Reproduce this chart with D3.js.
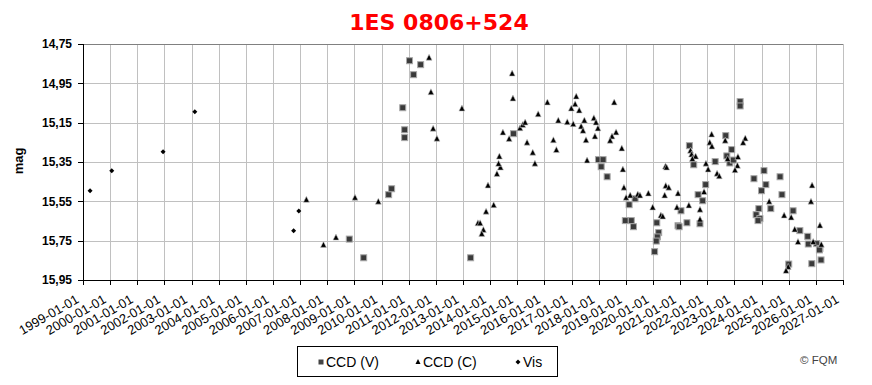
<!DOCTYPE html>
<html>
<head>
<meta charset="utf-8">
<script src="https://cdn.jsdelivr.net/npm/d3@7"></script>
<style>
  body { margin: 0; background: #fff; }
  svg { display: block; font-family: "Liberation Sans", Arial, sans-serif; }
  .grid line { stroke: #c0c0c0; shape-rendering: crispEdges; }
  .axis path, .axis line { stroke: #000; shape-rendering: crispEdges; }
  .axis text { fill: #000; }
</style>
</head>
<body>
<div id="root"></div>
<script>
const W = 872, H = 385,
    margin = {top: 44, right: 29, bottom: 105, left: 83},
    width = W - margin.left - margin.right,
    height = H - margin.top - margin.bottom;

// decimal year, magnitude
const ccdV = [
  [2008.81,15.742],[2009.34,15.837],[2010.26,15.516],[2010.37,15.486],[2010.78,15.074],
  [2010.85,15.186],[2010.85,15.226],[2011.03,14.835],[2011.18,14.906],[2011.44,14.855],
  [2013.28,15.837],[2014.86,15.206],[2017.99,15.338],[2018.16,15.338],[2018.09,15.374],
  [2018.31,15.425],[2019.12,15.567],[2019.34,15.537],[2018.98,15.648],[2019.20,15.648],
  [2019.28,15.679],[2020.14,15.659],[2020.21,15.709],[2020.16,15.731],[2020.12,15.752],
  [2020.06,15.806],[2020.92,15.674],[2020.96,15.679],[2021.03,15.598],[2021.25,15.659],
  [2021.34,15.267],[2021.50,15.364],[2022.29,15.348],[2021.94,15.465],[2021.66,15.516],
  [2021.83,15.547],[2021.73,15.664],[2022.68,15.216],[2022.90,15.287],[2022.72,15.319],
  [2022.83,15.355],[2022.96,15.340],[2023.21,15.043],[2023.21,15.065],[2023.72,15.435],
  [2024.09,15.394],[2024.16,15.465],[2024.00,15.496],[2024.34,15.587],[2023.90,15.587],
  [2023.80,15.618],[2023.94,15.638],[2023.87,15.648],[2024.68,15.425],[2024.75,15.516],
  [2025.16,15.598],[2025.41,15.699],[2025.70,15.728],[2025.72,15.767],[2026.03,15.765],
  [2026.15,15.789],[2026.13,15.797],[2025.85,15.867],[2026.19,15.848],[2025.00,15.869]
];

const ccdC = [
  [2007.23,15.543],[2007.86,15.772],[2008.32,15.735],[2009.02,15.532],[2009.88,15.552],
  [2011.75,14.820],[2011.82,14.996],[2011.90,15.181],[2012.04,15.232],[2012.96,15.079],
  [2013.55,15.662],[2013.63,15.662],[2013.75,15.696],[2013.69,15.716],[2013.85,15.603],
  [2014.13,15.570],[2013.92,15.470],[2014.25,15.411],[2014.38,15.379],[2014.31,15.360],
  [2014.34,15.323],[2014.47,15.201],[2014.70,15.233],[2014.81,14.901],[2014.84,15.028],
  [2015.10,15.179],[2015.20,15.162],[2015.29,15.150],[2015.36,15.252],[2015.57,15.303],
  [2015.65,15.359],[2015.77,15.108],[2016.11,15.048],[2016.33,15.240],[2016.44,15.290],
  [2016.51,15.140],[2016.84,15.148],[2016.99,15.079],[2017.06,15.158],[2017.13,15.057],
  [2017.17,15.018],[2017.28,15.089],[2017.47,15.140],[2017.35,15.170],[2017.42,15.192],
  [2017.53,15.240],[2017.57,15.343],[2017.82,15.128],[2017.90,15.150],[2017.97,15.180],
  [2017.86,15.221],[2018.57,15.048],[2018.64,15.200],[2018.49,15.221],[2018.42,15.242],
  [2018.85,15.282],[2018.89,15.389],[2018.93,15.481],[2019.01,15.532],[2019.16,15.521],
  [2019.44,15.516],[2019.52,15.521],[2019.83,15.511],[2019.99,15.582],[2020.29,15.623],
  [2020.36,15.628],[2020.43,15.521],[2020.46,15.374],[2020.50,15.379],[2020.47,15.472],
  [2020.58,15.481],[2020.92,15.511],[2020.88,15.582],[2021.32,15.572],[2021.38,15.293],
  [2021.42,15.313],[2021.57,15.323],[2021.45,15.335],[2022.16,15.211],[2022.09,15.252],
  [2022.17,15.272],[2021.95,15.359],[2022.03,15.389],[2021.88,15.503],[2021.73,15.593],
  [2021.73,15.643],[2022.36,15.410],[2022.66,15.242],[2022.44,15.423],[2022.75,15.335],
  [2023.13,15.325],[2023.11,15.370],[2023.02,15.392],[2023.40,15.231],[2023.32,15.253],
  [2024.28,15.552],[2024.83,15.623],[2025.09,15.633],[2025.22,15.694],[2025.34,15.757],
  [2025.90,15.757],[2026.20,15.771],[2025.86,15.470],[2025.82,15.552],[2026.15,15.674],
  [2024.98,15.884],[2024.90,15.904]
];

const vis = [
  [1999.26,15.496],[2000.06,15.394],[2001.95,15.298],[2003.12,15.094],
  [2006.76,15.699],[2006.95,15.599]
];

const yTicks = [14.75, 14.95, 15.15, 15.35, 15.55, 15.75, 15.95];
const firstYear = 1999, lastYear = 2027;
const legendItems = ["CCD (V)", "CCD (C)", "Vis"];

const toDate = (y) => {
    const yr = Math.floor(y);
    const a = Date.UTC(yr, 0, 1), b = Date.UTC(yr + 1, 0, 1);
    return new Date(a + (y - yr) * (b - a));
};

const svg = d3.select("#root").append("svg")
    .attr("width", W)
    .attr("height", H);

svg.append("text")
    .text("1ES 0806+524")
    .attr("x", 439)
    .attr("y", 30)
    .attr("text-anchor", "middle")
    .style("font-family", "'DejaVu Sans', Verdana, sans-serif")
    .style("font-weight", "bold")
    .style("font-size", "22px")
    .style("fill", "#ff0000");

const g = svg.append("g")
    .attr("transform", "translate(" + margin.left + "," + margin.top + ")");

const xScale = d3.scaleUtc()
    .domain([new Date(Date.UTC(firstYear, 0, 1)), new Date(Date.UTC(lastYear, 0, 1))])
    .range([0, width]);

const yScale = d3.scaleLinear()
    .domain([14.75, 15.95])
    .range([0, height]);

const yearTicks = d3.range(firstYear, lastYear + 1).map((y) => new Date(Date.UTC(y, 0, 1)));

// grid
g.append("g").attr("class", "grid")
    .selectAll("line").data(yTicks).enter().append("line")
    .attr("x1", 0).attr("x2", width)
    .attr("y1", (d) => Math.round(yScale(d)) + 0.5)
    .attr("y2", (d) => Math.round(yScale(d)) + 0.5);

g.append("g").attr("class", "grid")
    .selectAll("line").data(yearTicks).enter().append("line")
    .attr("x1", (d) => Math.round(xScale(d)) + 0.5)
    .attr("x2", (d) => Math.round(xScale(d)) + 0.5)
    .attr("y1", 0).attr("y2", height);

g.append("line")
    .attr("x1", 0).attr("x2", width)
    .attr("y1", 0.5).attr("y2", 0.5)
    .style("stroke", "#808080");

// axes
const xAxis = d3.axisBottom(xScale)
    .tickValues(yearTicks)
    .tickSize(5)
    .tickFormat(d3.utcFormat("%Y-%m-%d"));

const yAxis = d3.axisLeft(yScale)
    .tickValues(yTicks)
    .tickSize(5)
    .tickPadding(6)
    .tickFormat((d) => d.toFixed(2).replace(".", ","));

const xg = g.append("g")
    .attr("class", "axis")
    .attr("transform", "translate(0," + height + ")")
    .call(xAxis);
xg.select(".domain").remove();
xg.append("line").attr("x1", 0).attr("x2", width).attr("y1", 0.5).attr("y2", 0.5).style("stroke", "#000");
xg.selectAll("text")
    .attr("y", 0)
    .attr("dy", "0.35em")
    .attr("text-anchor", "end")
    .attr("transform", "translate(-6,18) rotate(-30)")
    .style("font-size", "13px");

const yg = g.append("g")
    .attr("class", "axis")
    .call(yAxis);
yg.select(".domain").attr("d", "M0.5,0V" + height);
yg.selectAll("text")
    .style("font-size", "12px")
    .style("font-weight", "bold");

svg.append("text")
    .text("mag")
    .attr("transform", "translate(23,161) rotate(-90)")
    .attr("text-anchor", "middle")
    .style("font-size", "13px")
    .style("font-weight", "bold");

// marks
const px = (d) => xScale(toDate(d[0]));
const py = (d) => yScale(d[1]);

const triPath = (s) => "M0," + (-s * 0.6) + "L" + (s / 2) + "," + (s * 0.4) + "L" + (-s / 2) + "," + (s * 0.4) + "Z";
const diaPath = (s) => "M0," + (-s / 2) + "L" + (s / 2) + ",0L0," + (s / 2) + "L" + (-s / 2) + ",0Z";

g.append("g").selectAll("path").data(vis).enter().append("path")
    .attr("d", diaPath(5))
    .attr("transform", (d) => "translate(" + px(d) + "," + py(d) + ")")
    .style("fill", "#000");

g.append("g").selectAll("rect").data(ccdV).enter().append("rect")
    .attr("x", (d) => px(d) - 3)
    .attr("y", (d) => py(d) - 3)
    .attr("width", 6)
    .attr("height", 6)
    .style("fill", "#3a3a3a")
    .style("stroke", "#a8a8a8")
    .style("stroke-width", 1);

g.append("g").selectAll("path").data(ccdC).enter().append("path")
    .attr("d", triPath(6))
    .attr("transform", (d) => "translate(" + px(d) + "," + py(d) + ")")
    .style("fill", "#000")
    .style("stroke", "#c8c8c8")
    .style("stroke-width", 0.6);

// legend
const leg = svg.append("g");
leg.append("rect")
    .attr("x", 297.5).attr("y", 346.5)
    .attr("width", 260).attr("height", 30)
    .style("fill", "#fff")
    .style("stroke", "#000");

const legX = [321, 418, 518];
leg.selectAll(".li").data(legendItems).enter().append("text")
    .text((d) => d)
    .attr("x", (d, i) => legX[i] + 5)
    .attr("y", 367)
    .style("font-size", "14px");

leg.append("rect").attr("x", legX[0] - 2.5).attr("y", 359.5).attr("width", 5).attr("height", 5).style("fill", "#444");
leg.append("path").attr("d", triPath(5)).attr("transform", "translate(" + legX[1] + ",362)").style("fill", "#000");
leg.append("path").attr("d", diaPath(5)).attr("transform", "translate(" + legX[2] + ",362)").style("fill", "#000");

svg.append("text")
    .text("© FQM")
    .attr("x", 800)
    .attr("y", 364)
    .style("font-size", "11.5px")
    .style("fill", "#444");
</script>
</body>
</html>
